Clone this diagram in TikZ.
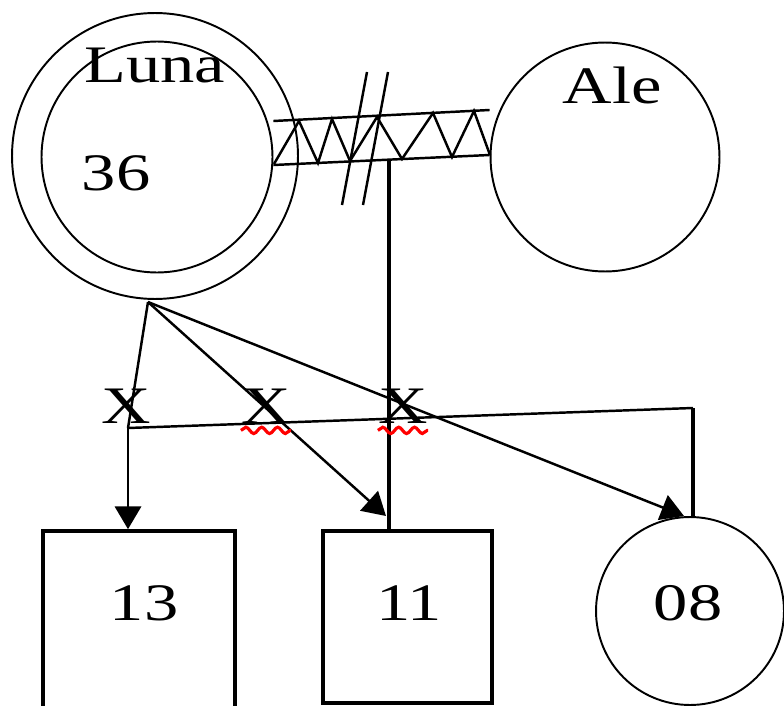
\documentclass[tikz,border=0pt]{standalone}
\usepackage{fontspec}
\setmainfont{Liberation Serif}
\usepackage{graphicx}
\usetikzlibrary{arrows.meta,positioning,calc,shapes.geometric,decorations.pathmorphing}

\newcommand{\wide}[1]{\scalebox{1.3}[1]{#1}}

\tikzset{
  person/.style={circle, draw, line width=1.1pt, inner sep=0pt},
  male/.style={rectangle, draw, line width=2.1pt, inner sep=0pt},
  tag/.style={font=\fontsize{30}{30}\selectfont, inner sep=0pt, anchor=base},
  link/.style={line width=1.4pt},
  kin/.style={line width=1.4pt, -{Triangle[length=13pt,width=15pt]}},
  typo/.style={red, line width=1.8pt, decorate, decoration={snake, amplitude=1.8pt, segment length=9pt}}
}

\begin{document}
\begin{tikzpicture}[x=0.02cm, y=-0.02cm]
    \useasboundingbox (0,0) rectangle (784,706);
    % Parents
    \node[person, minimum size=5.72cm] (lunaout) at (155,156) {};
    \node[person, minimum size=4.62cm] (luna) at (157,157) {};
    \node[person, minimum size=4.58cm] (ale) at (605,157) {};
    \node[tag] (lunaname) at (155,83) {\wide{Luna}};
    \node[tag] (lunaage) at (116,190) {\wide{36}};
    \node[tag] (alename) at (612,104) {\wide{Ale}};
    % Children
    \node[male, minimum width=3.84cm, minimum height=4.18cm] (box13) at (139,635.5) {};
    \node[male, minimum width=3.38cm, minimum height=3.44cm] (box11) at (407.5,617) {};
    \node[person, minimum size=3.76cm] (c08) at (690,611) {};
    \node[tag] (age13) at (144,620) {\wide{13}};
    \node[tag] (age11) at (409,620) {\wide{11}};
    \node[tag] (age08) at (688,620) {\wide{08}};
    % Conflict band between Luna and Ale
    \coordinate (bandTL) at ($(luna.east)+(0,-36)$);
    \coordinate (bandBL) at ($(luna.east)+(0,8)$);
    \coordinate (bandTR) at ($(ale.west)+(0,-47)$);
    \coordinate (bandBR) at ($(ale.west)+(0,-2)$);
    \draw[link] (bandTL) -- (bandTR) (bandBL) -- (bandBR);
    \draw[link] (274,164) -- (299,121) -- (318,163) -- (332,119) -- (350,161)
      -- (377,117) -- (402,159) -- (433,113) -- (452,157) -- (474,111) -- (490,155);
    % Separation marks
    \draw[link] (367,72) -- (342,205);
    \draw[link] (388,72) -- (363,205);
    \coordinate (bandmid) at (389,160);
    \draw[line width=2.1pt] (bandmid) -- (bandmid |- box11.north);
    % Sibling line
    \coordinate (sibL) at (128,428);
    \coordinate (sibR) at (693,408);
    \draw[link] (sibL) -- (sibR);
    \draw[line width=2.1pt] (sibR) -- (sibR |- c08.north);
    \draw[kin] (sibL) -- (sibL |- box13.north);
    % From Luna
    \coordinate (lunaB) at (148,302);
    \coordinate (tip11) at (386,516);
    \coordinate (tip08) at (684,516);
    \draw[link] (lunaB) -- (sibL);
    \draw[kin] (lunaB) -- (tip11);
    \draw[kin] (lunaB) -- (tip08);
    % Marks
    \node[tag] (x1) at (126,423) {\wide{X}};
    \node[tag] (x2) at (266,423) {\wide{X}};
    \node[tag] (x3) at (403,423) {\wide{X}};
    \draw[typo] ([yshift=-4pt]x2.south west) -- ([yshift=-4pt]x2.south east);
    \draw[typo] ([yshift=-4pt]x3.south west) -- ([yshift=-4pt]x3.south east);
\end{tikzpicture}
\end{document}
